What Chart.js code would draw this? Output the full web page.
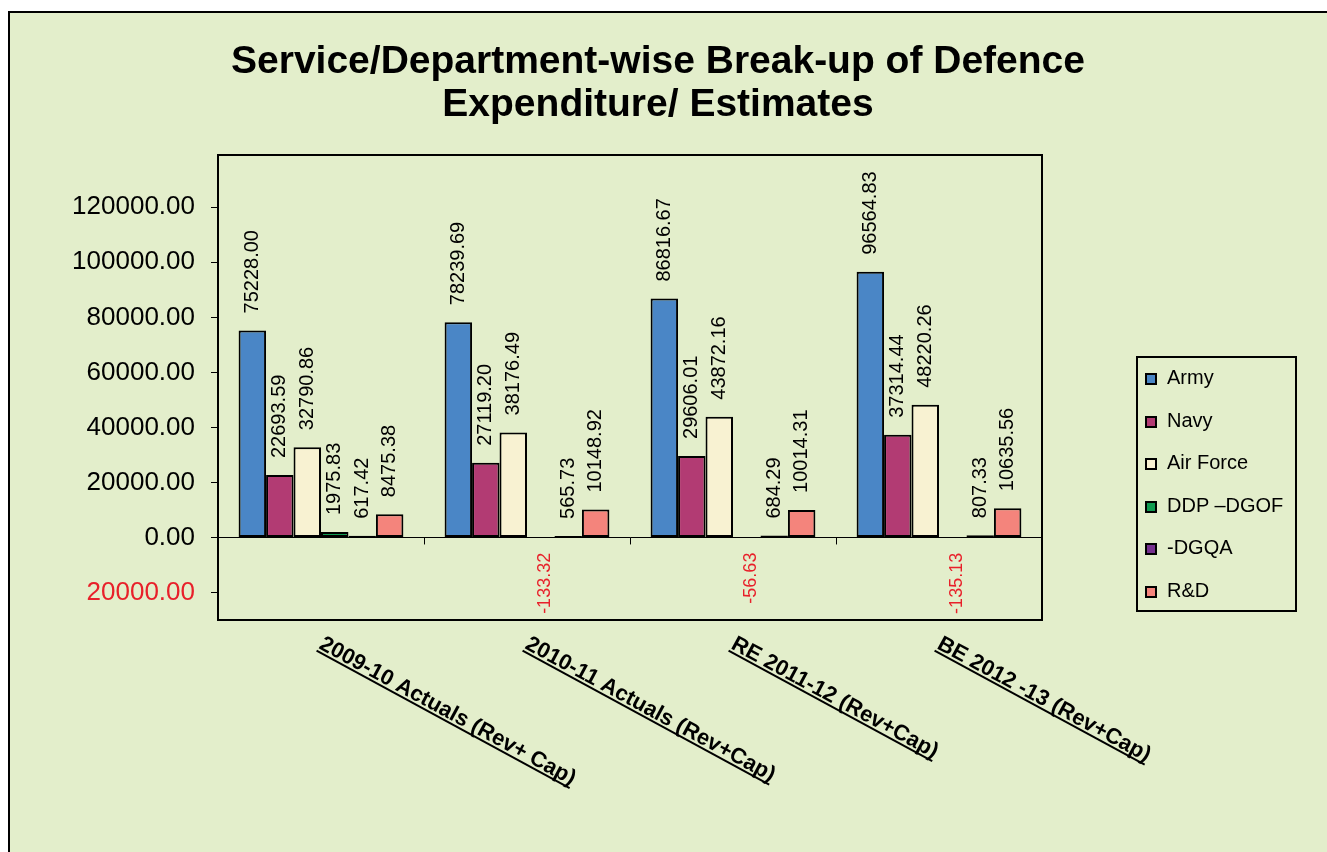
<!DOCTYPE html>
<html>
<head>
<meta charset="utf-8">
<title>Defence Expenditure</title>
<script src="https://cdn.jsdelivr.net/npm/chart.js@4.4.1/dist/chart.umd.min.js"></script>
<style>
  body { margin: 0; background: #fff; overflow: hidden; font-family: "Liberation Sans", Arial, sans-serif; }
  #frame { position: absolute; left: 8px; top: 11px; width: 1340px; height: 870px; border: 2px solid #000; background: #e3eecb; }
  #wrap { position: absolute; left: 0; top: 0; width: 1327px; height: 852px; }
  #legend { position: absolute; left: 1136px; top: 356px; width: 157px; height: 252px; border: 2px solid #000; }
  #legend ul { list-style: none; margin: -2px 0 0 0; padding: 0; }
  #legend li { height: 42.6px; line-height: 42.6px; font-size: 20px; color: #000; white-space: nowrap; }
  #legend span { display: inline-block; width: 12px; height: 12px; box-sizing: border-box; border: 2px solid #000; margin: 0 10px 0 7px; vertical-align: -1px; }
</style>
</head>
<body>
<div id="frame"></div>
<div id="wrap"><canvas id="chart" width="1327" height="852"></canvas></div>
<div id="legend"><ul id="legendList"></ul></div>
<script>
// waarden uit de grafiek
const categories = ['2009-10 Actuals (Rev+ Cap)', '2010-11 Actuals (Rev+Cap)', 'RE 2011-12 (Rev+Cap)', 'BE 2012 -13 (Rev+Cap)'];
const seriesNames = ['Army', 'Navy', 'Air Force', 'DDP \u2013DGOF', '-DGQA', 'R&D'];
const army = [75228.00, 78239.69, 86816.67, 96564.83];
const navy = [22693.59, 27119.20, 29606.01, 37314.44];
const airForce = [32790.86, 38176.49, 43872.16, 48220.26];
const ddpDgof = [1975.83, -133.32, -56.63, -135.13];
const dgqa = [617.42, 565.73, 684.29, 807.33];
const rnd = [8475.38, 10148.92, 10014.31, 10635.56];
const yTicks = [-20000, 0, 20000, 40000, 60000, 80000, 100000, 120000];
const titleLines = ['Service/Department-wise Break-up of Defence', 'Expenditure/ Estimates'];
const colors = ['#4a86c6', '#b23b73', '#f8f2d2', '#109a50', '#76308f', '#f4847c'];

const fontFam = '"Liberation Sans", Arial, sans-serif';
Chart.defaults.font.family = fontFam;

const allSeries = [army, navy, airForce, ddpDgof, dgqa, rnd];

// titel boven de grafiek
const titlePlugin = {
  id: 'titleText',
  afterDraw(chart) {
    const ctx = chart.ctx;
    ctx.save();
    ctx.font = 'bold 39px ' + fontFam;
    ctx.fillStyle = '#000';
    ctx.textAlign = 'center';
    ctx.textBaseline = 'middle';
    titleLines.forEach((t, i) => ctx.fillText(t, 658, 62 + i * 43));
    ctx.restore();
  }
};

// rand om het plotgebied + streepjes op de nullijn
const framePlugin = {
  id: 'plotFrame',
  afterDatasetsDraw(chart) {
    const a = chart.chartArea;
    const ctx = chart.ctx;
    const xs = chart.scales.x;
    const y0 = chart.scales.y.getPixelForValue(0);
    ctx.save();
    ctx.strokeStyle = '#000';
    ctx.lineWidth = 1;
    for (let i = 1; i < categories.length; i++) {
      const x = Math.round((xs.getPixelForValue(i - 1) + xs.getPixelForValue(i)) / 2) + 0.5;
      ctx.beginPath();
      ctx.moveTo(x, y0);
      ctx.lineTo(x, y0 + 7);
      ctx.stroke();
    }
    ctx.lineWidth = 2;
    ctx.strokeRect(a.left, a.top, a.right - a.left, a.bottom - a.top);
    ctx.restore();
  }
};

// waarde labels boven (of onder) de staven
const labelPlugin = {
  id: 'barLabels',
  afterDatasetsDraw(chart) {
    const ctx = chart.ctx;
    chart.data.datasets.forEach((ds, i) => {
      const meta = chart.getDatasetMeta(i);
      meta.data.forEach((bar, j) => {
        const v = ds.data[j];
        ctx.save();
        if (v >= 0) {
          ctx.translate(bar.x, bar.y - 17);
          ctx.rotate(-Math.PI / 2);
          ctx.textAlign = 'left';
          ctx.fillStyle = '#000';
          ctx.font = '20px ' + fontFam;
        } else {
          ctx.translate(bar.x + 4, bar.y + 15);
          ctx.rotate(-Math.PI / 2);
          ctx.textAlign = 'right';
          ctx.fillStyle = '#e8202a';
          ctx.font = '18px ' + fontFam;
        }
        ctx.textBaseline = 'middle';
        ctx.fillText(v.toFixed(2), 0, 0);
        ctx.restore();
      });
    });
  }
};

// schuine, onderstreepte categorie labels
const catLabelPlugin = {
  id: 'catLabels',
  afterDraw(chart) {
    const ctx = chart.ctx;
    const xs = chart.scales.x;
    const bottom = chart.chartArea.bottom;
    categories.forEach((c, i) => {
      const x = xs.getPixelForValue(i);
      ctx.save();
      ctx.translate(x - 3, bottom + 28);
      ctx.rotate(28.5 * Math.PI / 180);
      ctx.font = 'bold 22px ' + fontFam;
      ctx.fillStyle = '#000';
      ctx.textAlign = 'left';
      ctx.textBaseline = 'alphabetic';
      ctx.fillText(c, 0, 0);
      const w = ctx.measureText(c).width;
      ctx.fillRect(0, 2, w, 2);
      ctx.restore();
    });
  }
};

new Chart(document.getElementById('chart'), {
  type: 'bar',
  data: {
    labels: categories,
    datasets: seriesNames.map((name, i) => ({
      label: name,
      data: allSeries[i],
      backgroundColor: colors[i],
      borderColor: '#000',
      borderWidth: 2,
      borderSkipped: false,
      categoryPercentage: 0.8,
      barPercentage: 1.0
    }))
  },
  options: {
    responsive: false,
    animation: false,
    layout: { padding: { top: 155, right: 285, bottom: 232, left: 0 } },
    plugins: {
      legend: { display: false },
      title: { display: false },
      tooltip: { enabled: false }
    },
    scales: {
      x: {
        grid: { display: false },
        border: { display: false },
        ticks: { display: false },
        afterFit: s => { s.height = 0; }
      },
      y: {
        min: -30000,
        max: 139000,
        afterBuildTicks: s => { s.ticks = yTicks.map(v => ({ value: v })); },
        afterFit: s => { s.width = 218; },
        border: { display: true, color: '#000', width: 2 },
        grid: {
          color: c => (c.tick && c.tick.value === 0) ? '#000' : 'rgba(0,0,0,0)',
          tickColor: '#000',
          tickLength: 7,
          lineWidth: 1
        },
        ticks: {
          padding: 16,
          font: { size: 26 },
          color: c => c.tick.value < 0 ? '#e8202a' : '#000',
          callback: v => Math.abs(v).toFixed(2)
        }
      }
    }
  },
  plugins: [titlePlugin, framePlugin, labelPlugin, catLabelPlugin]
});

// legenda in html
const list = document.getElementById('legendList');
seriesNames.forEach((name, i) => {
  const li = document.createElement('li');
  const box = document.createElement('span');
  box.style.background = colors[i];
  li.appendChild(box);
  li.appendChild(document.createTextNode(name));
  list.appendChild(li);
});
</script>
</body>
</html>
